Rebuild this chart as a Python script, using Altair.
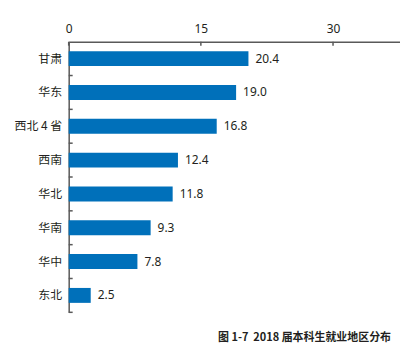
import altair as alt
import pandas as pd

categories = ["甘肃", "华东", "西北 4 省", "西南", "华北", "华南", "华中", "东北"]
values = [20.4, 19.0, 16.8, 12.4, 11.8, 9.3, 7.8, 2.5]
x_ticks = [0, 15, 30]
title_text = "图 1-7\u00a0 2018 届本科生就业地区分布"

df = pd.DataFrame({"region": categories, "share": values})
tick_df = pd.DataFrame({"share": x_ticks})

W, H = 333, 272
axis_color = "#595959"
bar_color = "#0070BA"
text_color = "#231F20"

x_scale = alt.Scale(domain=[0, 37.6], nice=False)
y_scale = alt.Scale(domain=categories, paddingInner=0, paddingOuter=0)

y_axis = alt.Axis(title=None, ticks=False, labelPadding=7,
                  labelFont="Noto Sans CJK SC", labelFontSize=12,
                  labelColor=text_color, domainColor=axis_color, domainWidth=1.5)
x_axis = alt.Axis(orient="top", values=x_ticks, title=None, ticks=False, grid=False,
                  labelPadding=6, labelFont="Noto Sans", labelFontSize=12,
                  labelColor=text_color, domainColor=axis_color, domainWidth=1.5,
                  labelFlush=False)

bars = alt.Chart(df).mark_bar(size=15, color=bar_color).encode(
    x=alt.X("share:Q", scale=x_scale, axis=x_axis),
    y=alt.Y("region:N", scale=y_scale, sort=categories, axis=y_axis),
)

labels = alt.Chart(df).mark_text(
    align="left", baseline="middle", dx=7, font="Noto Sans", fontSize=12, color=text_color
).encode(
    x=alt.X("share:Q", scale=x_scale, axis=x_axis),
    y=alt.Y("region:N", scale=y_scale, sort=categories, axis=y_axis),
    text=alt.Text("share:Q", format=".1f"),
)

yticks = alt.Chart(df).mark_rule(color=axis_color, strokeWidth=1.5).encode(
    y=alt.Y("region:N", scale=y_scale, sort=categories, axis=y_axis, bandPosition=1),
    x=alt.value(0),
    x2=alt.value(4),
)

xticks = alt.Chart(tick_df).mark_rule(color=axis_color, strokeWidth=1.5).encode(
    x=alt.X("share:Q", scale=x_scale, axis=x_axis),
    y=alt.value(0),
    y2=alt.value(4),
)

chart = alt.layer(bars, labels, yticks, xticks).properties(
    width=W, height=H,
    padding={"left": 5, "right": 0, "top": 14, "bottom": 5},
    title=alt.TitleParams(title_text, orient="bottom", anchor="end",
                          font="Noto Sans CJK SC", fontSize=11, fontWeight="bold",
                          color=text_color, offset=19, dx=-9),
).configure_view(stroke=None)

chart.save("out.html", embed_options={"renderer": "svg", "actions": False})
